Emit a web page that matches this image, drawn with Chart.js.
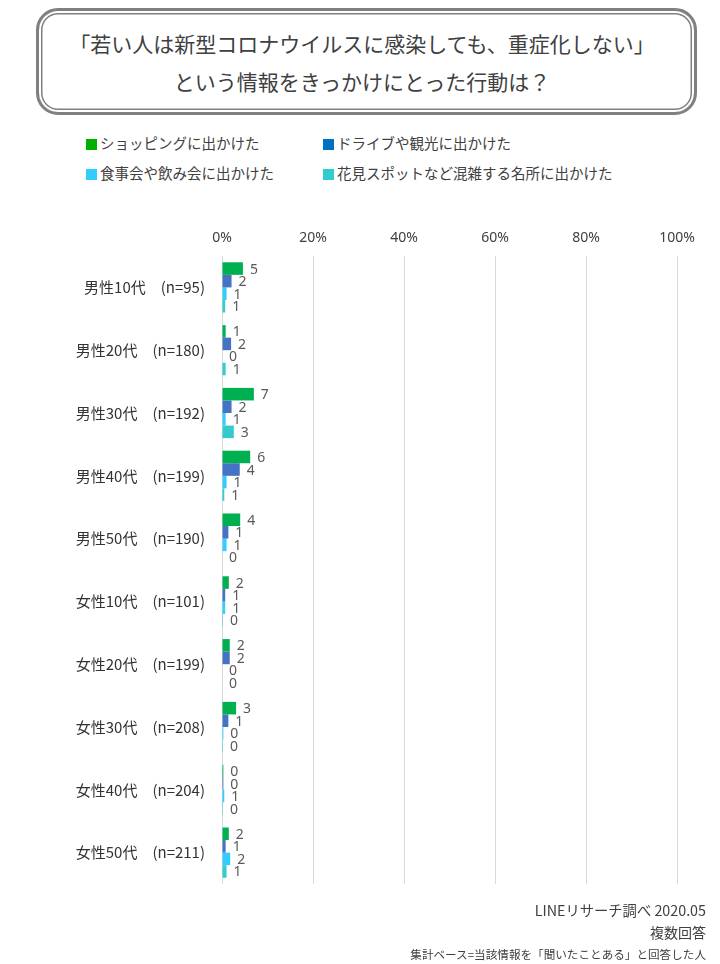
<!DOCTYPE html>
<html lang="ja">
<head>
<meta charset="utf-8">
<script src="https://cdn.jsdelivr.net/npm/chart.js@4"></script>
<style>
  body { margin: 0; width: 720px; height: 964px; background: #fff; font-family: "Noto Sans CJK JP", "Noto Sans", sans-serif; color: #404040; position: relative; overflow: hidden; }
  .box { position: absolute; left: 36px; top: 8px; width: 661px; height: 107px; box-sizing: border-box; border: 3px solid #808080; border-radius: 22px; box-shadow: inset 0 0 0 2px #fff, inset 0 0 0 3.5px #808080; }
  .title { position: absolute; left: 0; width: 724px; text-align: center; font-size: 21px; line-height: 28px; }
  .leg { position: absolute; font-size: 14.5px; line-height: 20px; white-space: nowrap; }
  .leg i { display: inline-block; width: 11px; height: 11px; margin-right: 3px; vertical-align: -1px; }
  .note { position: absolute; right: 14px; text-align: right; white-space: nowrap; }
  #wrap { position: absolute; left: 0; top: 214px; width: 720px; height: 688px; }
</style>
</head>
<body>
<div class="box"></div>
<div class="title" style="top:29px">「若い人は新型コロナウイルスに感染しても、重症化しない」</div>
<div class="title" style="top:67px">という情報をきっかけにとった行動は？</div>

<div id="legend"></div>

<div id="wrap"><canvas id="chart" width="720" height="688"></canvas></div>

<div class="note" style="top:899px;font-size:14.3px">LINEリサーチ調べ 2020.05</div>
<div class="note" style="top:922px;font-size:14px">複数回答</div>
<div class="note" style="top:946px;font-size:11.6px">集計ベース=当該情報を「聞いたことある」と回答した人</div>

<script>
const categories = [
  "男性10代　(n=95)", "男性20代　(n=180)", "男性30代　(n=192)", "男性40代　(n=199)", "男性50代　(n=190)",
  "女性10代　(n=101)", "女性20代　(n=199)", "女性30代　(n=208)", "女性40代　(n=204)", "女性50代　(n=211)"
];
const seriesNames = [
  "ショッピングに出かけた", "ドライブや観光に出かけた",
  "食事会や飲み会に出かけた", "花見スポットなど混雑する名所に出かけた"
];
const shopping = [4.6, 0.8, 7.0, 6.2, 4.0, 1.5, 1.7, 3.1, 0.3, 1.5];
const drive    = [2.1, 2.0, 2.1, 3.9, 1.4, 0.7, 1.7, 1.4, 0.3, 0.8];
const dining   = [1.0, 0.0, 0.8, 1.0, 1.0, 0.7, 0.0, 0.3, 0.5, 1.8];
const crowd    = [0.7, 0.8, 2.6, 0.5, 0.0, 0.2, 0.0, 0.2, 0.2, 1.0];
const xTicks = [0, 20, 40, 60, 80, 100];

const colors = ["#00B050", "#4472C4", "#33CCFF", "#33CCCC"];
const legendColors = ["#00B000", "#0070C0", "#33CCFF", "#33CCCC"];

// legend (2 x 2)
const legPos = [[86, 133], [323, 133], [86, 163], [323, 163]];
const legend = document.getElementById("legend");
seriesNames.forEach((name, i) => {
  const d = document.createElement("div");
  d.className = "leg";
  d.style.left = legPos[i][0] + "px";
  d.style.top = legPos[i][1] + "px";
  d.innerHTML = '<i style="background:' + legendColors[i] + '"></i>' + name;
  legend.appendChild(d);
});

// value labels at bar ends
const valueLabels = {
  id: "valueLabels",
  afterDatasetsDraw(chart) {
    const ctx = chart.ctx;
    ctx.save();
    ctx.font = '14px "Noto Sans", sans-serif';
    ctx.fillStyle = "#595959";
    ctx.textAlign = "left";
    ctx.textBaseline = "middle";
    chart.data.datasets.forEach((ds, i) => {
      chart.getDatasetMeta(i).data.forEach((bar, j) => {
        ctx.fillText(String(Math.round(ds.data[j])), bar.x + 7, bar.y + 1);
      });
    });
    ctx.restore();
  }
};

const allSeries = [shopping, drive, dining, crowd];

new Chart(document.getElementById("chart"), {
  type: "bar",
  data: {
    labels: categories,
    datasets: allSeries.map((vals, i) => ({
      label: seriesNames[i],
      data: vals,
      backgroundColor: colors[i],
      borderWidth: 0,
      barPercentage: 1.0,
      categoryPercentage: 0.8
    }))
  },
  options: {
    indexAxis: "y",
    responsive: false,
    animation: false,
    layout: { padding: { left: 0, right: 43, top: 0, bottom: 3 } },
    plugins: { legend: { display: false }, tooltip: { enabled: false } },
    scales: {
      x: {
        position: "top",
        min: 0,
        max: 100,
        afterBuildTicks: s => { s.ticks = xTicks.map(v => ({ value: v })); },
        afterFit: s => { s.height = 42; },
        ticks: {
          callback: v => v + "%",
          color: "#404040",
          font: { family: '"Noto Sans", sans-serif', size: 14 },
          padding: 10
        },
        grid: { color: "#d9d9d9", drawTicks: false },
        border: { display: false }
      },
      y: {
        afterFit: s => { s.width = 222; },
        ticks: {
          color: "#333333",
          font: { family: '"Noto Sans CJK JP", sans-serif', size: 15 },
          padding: 9
        },
        grid: { display: false },
        border: { display: false }
      }
    }
  },
  plugins: [valueLabels]
});
</script>
</body>
</html>
